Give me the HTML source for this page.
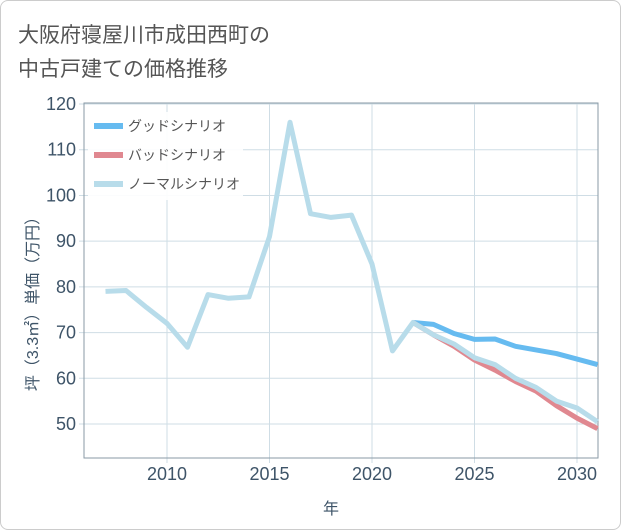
<!DOCTYPE html>
<html><head><meta charset="utf-8"><style>
body{margin:0;background:#fff;font-family:"Liberation Sans","Noto Sans CJK JP",sans-serif;}
#wrap{position:relative;width:619px;height:528px;border:1px solid #ccc;border-radius:8px;overflow:hidden;}
</style></head><body>
<div id="wrap">
<svg id="chart" width="621" height="530" style="position:absolute;left:-1px;top:-1px">
<text x="18" y="42" font-size="21" fill="#555" font-family="Liberation Sans,Noto Sans CJK JP,sans-serif">大阪府寝屋川市成田西町の</text>
<text x="18" y="76" font-size="21" fill="#555" font-family="Liberation Sans,Noto Sans CJK JP,sans-serif">中古戸建ての価格推移</text>
<g id="grid"></g><g id="axes"></g><g id="series"></g><g id="legend"></g>
<text x="331" y="514" font-size="16" fill="#3e5468" text-anchor="middle" font-family="Liberation Sans,Noto Sans CJK JP,sans-serif">年</text>
<text transform="translate(38,300) rotate(-90)" font-size="16" fill="#3e5468" text-anchor="middle" font-family="Liberation Sans,Noto Sans CJK JP,sans-serif">坪（3.3㎡）単価（万円）</text>
</svg>
</div>
<script>
const years=[2007,2008,2009,2010,2011,2012,2013,2014,2015,2016,2017,2018,2019,2020,2021,2022,2023,2024,2025,2026,2027,2028,2029,2030,2031];
const normalValues=[79,79.2,75.5,72,66.8,78.3,77.5,77.8,91,116,96,95.2,95.7,85,66,72.2,69.5,67.5,64.5,63,60,58,55,53.5,50.5];
const forecastYears=[2022,2023,2024,2025,2026,2027,2028,2029,2030,2031];
const goodValues=[72.2,71.8,69.8,68.5,68.6,67,66.2,65.4,64.2,63];
const badValues=[72.2,69.5,67,64,61.8,59.3,57.2,54,51.3,49];
const yTicks=[50,60,70,80,90,100,110,120];
const xTicks=[2010,2015,2020,2025,2030];
const legendLabels=["グッドシナリオ","バッドシナリオ","ノーマルシナリオ"];
const NS="http://www.w3.org/2000/svg";
const L=84,R=598,T=103,B=458;
function xs(v){return 167+(v-2010)*20.5;}
function ys(v){return 424-(v-50)*4.571;}
function mk(tag,attrs,parent){const e=document.createElementNS(NS,tag);for(const k in attrs)e.setAttribute(k,attrs[k]);document.getElementById(parent).appendChild(e);return e;}
yTicks.forEach(v=>{
 const g=mk('line',{x1:L-5,x2:R,y1:ys(v),y2:ys(v),stroke:'#cfdde5','stroke-width':1},'grid');
 
 
 const t=mk('text',{x:L-8,y:ys(v)+6,'font-size':18,fill:'#3e5468','text-anchor':'end'},'axes');
 t.textContent=v;
 
 
});
xTicks.forEach(v=>{
 const g=mk('line',{x1:xs(v),x2:xs(v),y1:T,y2:B+5,stroke:'#cfdde5','stroke-width':1},'grid');
 
 
 const t=mk('text',{x:xs(v),y:B+22,'font-size':18,fill:'#3e5468','text-anchor':'middle'},'axes');
 t.textContent=v;
 
 
});
const ax=mk('rect',{x:L,y:T,width:R-L,height:B-T,stroke:'#8a9aa6',fill:'none'},'axes');


function line(xv,yv,color,name){
 const d=xv.map((x,i)=>(i?'L':'M')+xs(x).toFixed(1)+' '+ys(yv[i]).toFixed(1)).join('');
 const p=mk('path',{d:d,stroke:color,'stroke-width':5,fill:'none','stroke-linejoin':'round','stroke-linecap':'butt'},'series');
 
 
}
line(forecastYears,goodValues,'#66bbf0','good-scenario-line');
line(forecastYears,badValues,'#e08890','bad-scenario-line');
line(years,normalValues,'#b8dcea','normal-scenario-line');
const bg=mk('rect',{x:88,y:112,width:155,height:88,fill:'#fff',opacity:0.9},'legend');


const lc=['#66bbf0','#e08890','#b8dcea'];
legendLabels.forEach((s,i)=>{
 const y=126+i*29;
 const l=mk('line',{x1:94,x2:123,y1:y,y2:y,stroke:lc[i],'stroke-width':6},'legend');
 
 
 const t=mk('text',{x:128,y:y+5,'font-size':14,fill:'#555'},'legend');
 t.textContent=s;
 
 
});
</script>
</body></html>
